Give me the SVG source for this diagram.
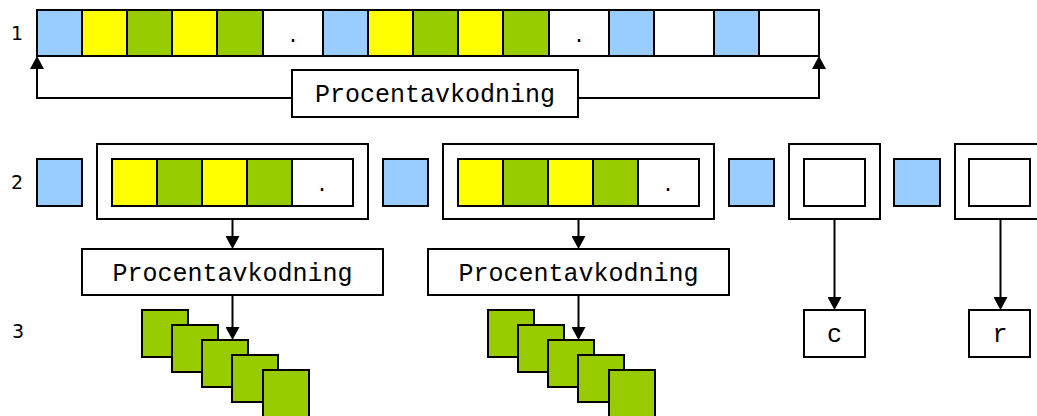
<svg xmlns="http://www.w3.org/2000/svg" width="1037" height="416" viewBox="0 0 1037 416">
  <style>
    .box { stroke: #000; stroke-width: 2; }
    .b { fill: #99ccff; }
    .y { fill: #ffff00; }
    .g { fill: #99cc00; }
    .w { fill: #ffffff; }
    .mono { font-family: "Liberation Mono", "Courier New", monospace; font-size: 25px; fill: #000; text-anchor: middle; }
    .dot { font-family: "Liberation Mono", "Courier New", monospace; font-size: 20px; fill: #000; text-anchor: middle; }
    .row { font-family: "DejaVu Sans", "Liberation Sans", sans-serif; font-size: 19px; fill: #000; text-anchor: middle; }
    .conn { fill: none; stroke: #000; stroke-width: 2; }
  </style>
  <defs>
    <marker id="arrow" viewBox="0 0 13 14" refX="0" refY="7" markerWidth="13" markerHeight="14" markerUnits="userSpaceOnUse" orient="auto">
      <path d="M0,0 L13,7 L0,14 z" fill="#000"/>
    </marker>
  </defs>

  <rect width="1037" height="416" fill="#fff"/>

  <!-- row numbers -->
  <g id="row-labels">
    <text class="row" x="17" y="40">1</text>
    <text class="row" x="17" y="189">2</text>
    <text class="row" x="18" y="338">3</text>
  </g>

  <!-- row 1: the whole encoded string -->
  <g id="string">
    <rect class="box b" x="37" y="10" width="45" height="46"/>
    <rect class="box y" x="82" y="10" width="45" height="46"/>
    <rect class="box g" x="127" y="10" width="45" height="46"/>
    <rect class="box y" x="172" y="10" width="45" height="46"/>
    <rect class="box g" x="217" y="10" width="46" height="46"/>
    <rect class="box w" x="263" y="10" width="60" height="46"/>
    <text class="dot" x="293" y="42">.</text>
    <rect class="box b" x="323" y="10" width="45" height="46"/>
    <rect class="box y" x="368" y="10" width="45" height="46"/>
    <rect class="box g" x="413" y="10" width="45" height="46"/>
    <rect class="box y" x="458" y="10" width="45" height="46"/>
    <rect class="box g" x="503" y="10" width="46" height="46"/>
    <rect class="box w" x="549" y="10" width="60" height="46"/>
    <text class="dot" x="579" y="42">.</text>
    <rect class="box b" x="609" y="10" width="45" height="46"/>
    <rect class="box w" x="654" y="10" width="60" height="46"/>
    <rect class="box b" x="714" y="10" width="45" height="46"/>
    <rect class="box w" x="759" y="10" width="60" height="46"/>
  </g>

  <g id="decode-1">
    <rect class="box w" x="292" y="70" width="286" height="47"/>
    <text class="mono" x="435" y="102">Procentavkodning</text>
  </g>

  <!-- row 2: separators and segments -->
  <g id="sep-1"><rect class="box b" x="37" y="159" width="45" height="47"/></g>
  <g id="segment-1">
    <rect class="box w" x="97" y="144" width="271" height="75"/>
    <rect class="box y" x="112" y="159" width="45" height="47"/>
    <rect class="box g" x="157" y="159" width="45" height="47"/>
    <rect class="box y" x="202" y="159" width="45" height="47"/>
    <rect class="box g" x="247" y="159" width="45" height="47"/>
    <rect class="box w" x="292" y="159" width="61" height="47"/>
    <text class="dot" x="322" y="191">.</text>
  </g>
  <g id="sep-2"><rect class="box b" x="383" y="159" width="45" height="47"/></g>
  <g id="segment-2">
    <rect class="box w" x="443" y="144" width="271" height="75"/>
    <rect class="box y" x="458" y="159" width="45" height="47"/>
    <rect class="box g" x="503" y="159" width="45" height="47"/>
    <rect class="box y" x="548" y="159" width="45" height="47"/>
    <rect class="box g" x="593" y="159" width="45" height="47"/>
    <rect class="box w" x="638" y="159" width="61" height="47"/>
    <text class="dot" x="668" y="191">.</text>
  </g>
  <g id="sep-3"><rect class="box b" x="729" y="159" width="45" height="47"/></g>
  <g id="segment-3">
    <rect class="box w" x="789" y="144" width="91" height="75"/>
    <rect class="box w" x="804" y="159" width="61" height="47"/>
  </g>
  <g id="sep-4"><rect class="box b" x="894" y="159" width="46" height="47"/></g>
  <g id="segment-4">
    <rect class="box w" x="955" y="144" width="91" height="75"/>
    <rect class="box w" x="969" y="159" width="61" height="47"/>
  </g>

  <!-- decoders -->
  <g id="decode-2">
    <rect class="box w" x="82" y="249" width="301" height="46"/>
    <text class="mono" x="232.5" y="281">Procentavkodning</text>
  </g>
  <g id="decode-3">
    <rect class="box w" x="428" y="249" width="301" height="46"/>
    <text class="mono" x="578.5" y="281">Procentavkodning</text>
  </g>

  <!-- row 3: decoded bytes -->
  <g id="bytes-1">
    <rect class="box g" x="142" y="310" width="46" height="47"/>
    <rect class="box g" x="172" y="325" width="46" height="47"/>
    <rect class="box g" x="202" y="340" width="46" height="47"/>
    <rect class="box g" x="232" y="355" width="46" height="47"/>
    <rect class="box g" x="263" y="370" width="46" height="47"/>
  </g>
  <g id="bytes-2">
    <rect class="box g" x="488" y="310" width="46" height="47"/>
    <rect class="box g" x="518" y="325" width="46" height="47"/>
    <rect class="box g" x="548" y="340" width="46" height="47"/>
    <rect class="box g" x="578" y="355" width="46" height="47"/>
    <rect class="box g" x="609" y="370" width="46" height="47"/>
  </g>
  <g id="char-c">
    <rect class="box w" x="804" y="310" width="61" height="47"/>
    <text class="mono" x="834.5" y="342">c</text>
  </g>
  <g id="char-r">
    <rect class="box w" x="969" y="310" width="61" height="47"/>
    <text class="mono" x="1000" y="342">r</text>
  </g>

  <!-- connectors -->
  <g id="connectors">
    <path class="conn" d="M292,98 H37 V69" marker-end="url(#arrow)"/>
    <path class="conn" d="M578,98 H819 V69" marker-end="url(#arrow)"/>
    <path class="conn" d="M232.5,219 V236" marker-end="url(#arrow)"/>
    <path class="conn" d="M578.5,219 V236" marker-end="url(#arrow)"/>
    <path class="conn" d="M232.5,295 V327" marker-end="url(#arrow)"/>
    <path class="conn" d="M578.5,295 V327" marker-end="url(#arrow)"/>
    <path class="conn" d="M834.5,219 V297" marker-end="url(#arrow)"/>
    <path class="conn" d="M1000.5,219 V297" marker-end="url(#arrow)"/>
  </g>
</svg>
